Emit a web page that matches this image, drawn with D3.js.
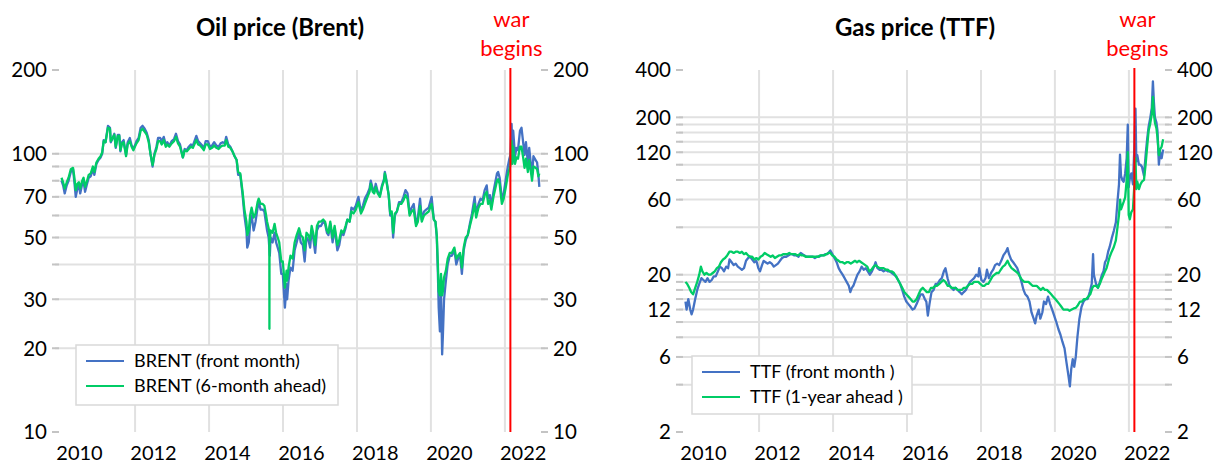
<!DOCTYPE html>
<html>
<head>
<meta charset="utf-8">
<script src="https://cdn.jsdelivr.net/npm/d3@7"></script>
<style>
  body { margin: 0; background: #fff; }
  svg { display: block; font-family: Lato, "Open Sans", sans-serif; }
</style>
</head>
<body>
<script>
// x axis
var yearLabels = [2010, 2012, 2014, 2016, 2018, 2020, 2022];
var gridYears = [2012, 2014, 2016, 2018, 2020, 2022];
var warDate = "2022-02-24";

// y axes
var brentTicks = [10, 20, 30, 50, 70, 100, 200];
var brentGrid = [20, 30, 40, 50, 60, 70, 80, 90, 100];
var ttfTicks = [2, 6, 12, 20, 60, 120, 200, 400];
var ttfGrid = [4, 6, 8, 10, 12, 14, 16, 18, 20, 40, 60, 80, 100, 120, 140, 160, 180, 200];

// BRENT front month
var brentFront = [
  ["2010-01-04",80],["2010-01-20",77],["2010-02-05",72],["2010-02-25",77],["2010-03-15",80],["2010-04-06",86],
  ["2010-04-28",88],["2010-05-10",80],["2010-05-25",70],["2010-06-10",75],["2010-06-25",77],["2010-07-08",72],
  ["2010-07-28",78],["2010-08-10",80],["2010-08-25",73],["2010-09-10",77],["2010-09-30",82],["2010-10-20",83],
  ["2010-11-10",88],["2010-11-25",84],["2010-12-15",92],["2011-01-05",95],["2011-01-25",97],["2011-02-10",100],
  ["2011-02-25",112],["2011-03-15",110],["2011-04-08",126],["2011-04-28",124],["2011-05-06",110],["2011-05-25",114],
  ["2011-06-10",118],["2011-06-24",105],["2011-07-15",117],["2011-07-29",117],["2011-08-09",102],["2011-08-25",110],
  ["2011-09-10",112],["2011-09-26",103],["2011-10-04",99],["2011-10-20",110],["2011-11-10",114],["2011-11-28",107],
  ["2011-12-15",104],["2011-12-30",107],["2012-01-15",111],["2012-02-05",114],["2012-02-25",124],["2012-03-15",126],
  ["2012-04-05",123],["2012-04-25",119],["2012-05-15",112],["2012-06-01",100],["2012-06-22",90],["2012-07-10",100],
  ["2012-07-30",106],["2012-08-15",114],["2012-09-05",114],["2012-09-20",111],["2012-10-10",115],["2012-10-30",108],
  ["2012-11-15",110],["2012-12-05",107],["2012-12-28",111],["2013-01-20",113],["2013-02-08",118],["2013-02-28",111],
  ["2013-03-20",108],["2013-04-17",97],["2013-05-05",104],["2013-05-25",103],["2013-06-15",106],["2013-07-05",108],
  ["2013-07-25",107],["2013-08-28",116],["2013-09-15",111],["2013-10-05",109],["2013-10-25",107],["2013-11-10",104],
  ["2013-11-28",111],["2013-12-20",111],["2014-01-10",106],["2014-01-30",107],["2014-02-20",110],["2014-03-15",107],
  ["2014-04-05",106],["2014-04-25",109],["2014-05-15",110],["2014-06-05",109],["2014-06-19",115],["2014-07-10",108],
  ["2014-07-30",106],["2014-08-20",102],["2014-09-10",98],["2014-09-30",95],["2014-10-15",84],["2014-11-05",84],
  ["2014-11-28",71],["2014-12-16",60],["2015-01-05",53],["2015-01-13",46],["2015-01-28",48],["2015-02-10",56],
  ["2015-02-25",60],["2015-03-17",53],["2015-04-05",57],["2015-04-25",64],["2015-05-06",67],["2015-05-25",63],
  ["2015-06-15",63],["2015-07-01",62],["2015-07-15",57],["2015-07-28",53],["2015-08-12",50],["2015-08-24",43],
  ["2015-09-01",50],["2015-09-20",48],["2015-10-10",52],["2015-10-25",48],["2015-11-10",46],["2015-11-25",44],
  ["2015-12-15",37],["2015-12-30",37],["2016-01-12",31],["2016-01-20",28],["2016-02-05",34],["2016-02-11",30],
  ["2016-02-25",35],["2016-03-15",39],["2016-04-05",38],["2016-04-25",45],["2016-05-15",48],["2016-06-08",52],
  ["2016-06-25",48],["2016-07-15",47],["2016-08-02",41],["2016-08-20",50],["2016-09-08",49],["2016-09-25",46],
  ["2016-10-10",53],["2016-10-25",50],["2016-11-14",44],["2016-12-01",53],["2016-12-20",55],["2017-01-10",55],
  ["2017-02-01",57],["2017-02-20",56],["2017-03-10",52],["2017-03-25",51],["2017-04-12",56],["2017-05-05",48],
  ["2017-05-25",54],["2017-06-21",45],["2017-07-10",47],["2017-07-30",52],["2017-08-20",51],["2017-09-10",54],
  ["2017-09-28",58],["2017-10-20",57],["2017-11-07",64],["2017-11-28",63],["2017-12-20",65],["2018-01-15",70],
  ["2018-02-09",62],["2018-02-28",65],["2018-03-20",69],["2018-04-15",72],["2018-05-05",75],["2018-05-17",80],
  ["2018-06-05",75],["2018-06-20",73],["2018-07-05",78],["2018-07-25",73],["2018-08-15",71],["2018-09-05",77],
  ["2018-09-25",81],["2018-10-03",86],["2018-10-20",80],["2018-11-10",71],["2018-11-25",60],["2018-12-10",61],
  ["2018-12-24",50],["2019-01-10",60],["2019-01-30",62],["2019-02-20",67],["2019-03-15",67],["2019-04-05",70],
  ["2019-04-25",74],["2019-05-15",72],["2019-06-05",61],["2019-06-25",64],["2019-07-15",66],["2019-08-07",56],
  ["2019-08-25",59],["2019-09-16",69],["2019-10-03",58],["2019-10-25",62],["2019-11-15",63],["2019-12-10",64],
  ["2019-12-30",68],["2020-01-08",70],["2020-01-30",58],["2020-02-15",57],["2020-02-28",50],["2020-03-10",37],
  ["2020-03-18",28],["2020-03-30",23],["2020-04-10",32],["2020-04-21",19],["2020-04-28",22],["2020-05-10",30],
  ["2020-05-28",35],["2020-06-15",40],["2020-07-05",43],["2020-07-25",43],["2020-08-20",45],["2020-09-08",40],
  ["2020-09-25",42],["2020-10-15",43],["2020-11-02",37],["2020-11-20",45],["2020-12-10",49],["2020-12-30",51],
  ["2021-01-20",56],["2021-02-10",61],["2021-02-25",66],["2021-03-08",70],["2021-03-23",61],["2021-04-15",66],
  ["2021-05-05",69],["2021-05-25",68],["2021-06-15",74],["2021-07-05",77],["2021-07-19",69],["2021-08-05",71],
  ["2021-08-20",65],["2021-09-10",73],["2021-09-28",79],["2021-10-15",85],["2021-10-26",86],["2021-11-10",82],
  ["2021-11-26",72],["2021-12-02",69],["2021-12-20",72],["2022-01-10",81],["2022-01-30",90],["2022-02-14",96],
  ["2022-02-24",99],["2022-03-08",128],["2022-03-16",98],["2022-03-24",121],["2022-04-11",98],["2022-04-25",105],
  ["2022-05-10",103],["2022-05-30",121],["2022-06-14",124],["2022-06-30",110],["2022-07-14",99],["2022-07-28",110],
  ["2022-08-16",92],["2022-08-29",105],["2022-09-15",91],["2022-09-26",84],["2022-10-10",98],["2022-10-31",95],
  ["2022-11-15",93],["2022-11-28",84],["2022-12-07",76]
];

// BRENT 6-month ahead
var brentAhead = [
  ["2010-01-04",82],["2010-01-20",79],["2010-02-05",75],["2010-02-25",79],["2010-03-15",82],["2010-04-06",88],
  ["2010-04-28",89],["2010-05-10",83],["2010-05-25",74],["2010-06-10",78],["2010-06-25",79],["2010-07-08",75],
  ["2010-07-28",80],["2010-08-10",82],["2010-08-25",76],["2010-09-10",79],["2010-09-30",84],["2010-10-20",85],
  ["2010-11-10",90],["2010-11-25",86],["2010-12-15",93],["2011-01-05",96],["2011-01-25",98],["2011-02-10",101],
  ["2011-02-25",111],["2011-03-15",110],["2011-04-08",124],["2011-04-28",123],["2011-05-06",111],["2011-05-25",114],
  ["2011-06-10",117],["2011-06-24",106],["2011-07-15",116],["2011-07-29",116],["2011-08-09",103],["2011-08-25",109],
  ["2011-09-10",110],["2011-09-26",102],["2011-10-04",98],["2011-10-20",108],["2011-11-10",111],["2011-11-28",106],
  ["2011-12-15",103],["2011-12-30",106],["2012-01-15",109],["2012-02-05",112],["2012-02-25",121],["2012-03-15",123],
  ["2012-04-05",120],["2012-04-25",117],["2012-05-15",110],["2012-06-01",100],["2012-06-22",91],["2012-07-10",99],
  ["2012-07-30",104],["2012-08-15",111],["2012-09-05",111],["2012-09-20",108],["2012-10-10",112],["2012-10-30",106],
  ["2012-11-15",108],["2012-12-05",106],["2012-12-28",109],["2013-01-20",111],["2013-02-08",115],["2013-02-28",109],
  ["2013-03-20",106],["2013-04-17",97],["2013-05-05",103],["2013-05-25",102],["2013-06-15",104],["2013-07-05",106],
  ["2013-07-25",105],["2013-08-28",112],["2013-09-15",108],["2013-10-05",107],["2013-10-25",105],["2013-11-10",103],
  ["2013-11-28",108],["2013-12-20",108],["2014-01-10",104],["2014-01-30",105],["2014-02-20",107],["2014-03-15",105],
  ["2014-04-05",104],["2014-04-25",106],["2014-05-15",107],["2014-06-05",107],["2014-06-19",112],["2014-07-10",106],
  ["2014-07-30",105],["2014-08-20",102],["2014-09-10",98],["2014-09-30",95],["2014-10-15",86],["2014-11-05",85],
  ["2014-11-28",73],["2014-12-16",63],["2015-01-05",57],["2015-01-13",51],["2015-01-28",53],["2015-02-10",60],
  ["2015-02-25",64],["2015-03-17",59],["2015-04-05",61],["2015-04-25",67],["2015-05-06",69],["2015-05-25",66],
  ["2015-06-15",66],["2015-07-01",65],["2015-07-15",61],["2015-07-28",57],["2015-08-12",54],["2015-08-19",52],
  ["2015-08-20",23.5],["2015-08-21",51],["2015-08-24",48],["2015-09-01",53],["2015-09-20",52],["2015-10-10",56],
  ["2015-10-25",52],["2015-11-10",50],["2015-11-25",48],["2015-12-15",41],["2015-12-30",41],["2016-01-12",36],
  ["2016-01-20",33],["2016-02-05",38],["2016-02-11",35],["2016-02-25",39],["2016-03-15",43],["2016-04-05",42],
  ["2016-04-25",48],["2016-05-15",51],["2016-06-08",54],["2016-06-25",51],["2016-07-15",50],["2016-08-02",45],
  ["2016-08-20",52],["2016-09-08",51],["2016-09-25",49],["2016-10-10",55],["2016-10-25",52],["2016-11-14",47],
  ["2016-12-01",55],["2016-12-20",57],["2017-01-10",57],["2017-02-01",58],["2017-02-20",57],["2017-03-10",53],
  ["2017-03-25",52],["2017-04-12",57],["2017-05-05",50],["2017-05-25",55],["2017-06-21",47],["2017-07-10",49],
  ["2017-07-30",53],["2017-08-20",52],["2017-09-10",55],["2017-09-28",58],["2017-10-20",57],["2017-11-07",62],
  ["2017-11-28",61],["2017-12-20",63],["2018-01-15",67],["2018-02-09",61],["2018-02-28",63],["2018-03-20",66],
  ["2018-04-15",70],["2018-05-05",73],["2018-05-17",78],["2018-06-05",73],["2018-06-20",72],["2018-07-05",76],
  ["2018-07-25",72],["2018-08-15",70],["2018-09-05",76],["2018-09-25",80],["2018-10-03",85],["2018-10-20",79],
  ["2018-11-10",71],["2018-11-25",61],["2018-12-10",62],["2018-12-24",52],["2019-01-10",61],["2019-01-30",62],
  ["2019-02-20",66],["2019-03-15",66],["2019-04-05",68],["2019-04-25",71],["2019-05-15",69],["2019-06-05",60],
  ["2019-06-25",62],["2019-07-15",63],["2019-08-07",55],["2019-08-25",57],["2019-09-16",65],["2019-10-03",57],
  ["2019-10-25",60],["2019-11-15",61],["2019-12-10",62],["2019-12-30",65],["2020-01-08",66],["2020-01-30",58],
  ["2020-02-15",57],["2020-02-28",51],["2020-03-10",40],["2020-03-18",32],["2020-03-30",31],["2020-04-10",37],
  ["2020-04-21",31],["2020-04-28",32],["2020-05-10",36],["2020-05-28",38],["2020-06-15",42],["2020-07-05",44],
  ["2020-07-25",44],["2020-08-20",46],["2020-09-08",42],["2020-09-25",43],["2020-10-15",44],["2020-11-02",39],
  ["2020-11-20",46],["2020-12-10",50],["2020-12-30",51],["2021-01-20",55],["2021-02-10",59],["2021-02-25",63],
  ["2021-03-08",66],["2021-03-23",59],["2021-04-15",64],["2021-05-05",66],["2021-05-25",66],["2021-06-15",71],
  ["2021-07-05",73],["2021-07-19",66],["2021-08-05",68],["2021-08-20",63],["2021-09-10",70],["2021-09-28",75],
  ["2021-10-15",80],["2021-10-26",81],["2021-11-10",78],["2021-11-26",69],["2021-12-02",66],["2021-12-20",69],
  ["2022-01-10",76],["2022-01-30",84],["2022-02-14",88],["2022-02-24",91],["2022-03-08",111],["2022-03-16",92],
  ["2022-03-24",106],["2022-04-11",92],["2022-04-25",97],["2022-05-10",96],["2022-05-30",106],["2022-06-14",106],
  ["2022-06-30",97],["2022-07-14",89],["2022-07-28",96],["2022-08-16",86],["2022-08-29",95],["2022-09-15",86],
  ["2022-09-26",80],["2022-10-10",90],["2022-10-31",89],["2022-11-15",88],["2022-11-28",83],["2022-12-07",85]
];

// TTF front month
var ttfFront = [
  ["2010-01-04",13.5],["2010-01-15",12],["2010-02-01",14],["2010-02-20",12],["2010-03-05",11.2],["2010-03-20",12],
  ["2010-04-10",14],["2010-04-30",16],["2010-05-20",17.5],["2010-06-10",19],["2010-06-30",18.5],["2010-07-20",18],
  ["2010-08-10",19],["2010-08-30",18],["2010-09-20",18.5],["2010-10-10",19.5],["2010-10-30",19.5],["2010-11-20",21],
  ["2010-12-10",22.5],["2010-12-30",22],["2011-01-20",21],["2011-02-10",22.5],["2011-03-01",22],["2011-03-15",25],
  ["2011-04-05",24],["2011-04-25",23],["2011-05-15",23.5],["2011-06-05",22.5],["2011-06-25",22],["2011-07-15",21.5],
  ["2011-08-05",22],["2011-08-25",24.5],["2011-09-15",25.5],["2011-10-05",26],["2011-10-25",25],["2011-11-15",24],
  ["2011-12-05",24.5],["2011-12-25",22],["2012-01-10",21],["2012-01-30",23],["2012-02-15",24.5],["2012-03-05",24],
  ["2012-03-25",23.5],["2012-04-15",24],["2012-05-05",23.5],["2012-05-25",22.5],["2012-06-15",23],["2012-07-05",23.5],
  ["2012-07-25",24.5],["2012-08-15",25.5],["2012-09-05",26],["2012-09-25",26],["2012-10-15",26.5],["2012-11-05",27],
  ["2012-11-25",27],["2012-12-15",26.5],["2013-01-05",26.5],["2013-01-25",26],["2013-02-15",27.5],["2013-03-05",27],
  ["2013-03-25",26.5],["2013-04-15",26],["2013-05-05",26],["2013-05-25",26],["2013-06-15",26],["2013-07-05",25.5],
  ["2013-07-25",26],["2013-08-15",26],["2013-09-05",26.5],["2013-09-25",26.5],["2013-10-15",27],["2013-11-05",27],
  ["2013-11-25",28],["2013-12-05",28.5],["2013-12-25",27],["2014-01-15",25.5],["2014-02-05",24],["2014-02-25",22],
  ["2014-03-15",21],["2014-04-05",20],["2014-04-25",19],["2014-05-15",18],["2014-06-05",17],["2014-06-20",15.5],
  ["2014-07-05",16.5],["2014-07-20",17],["2014-08-10",18.5],["2014-08-30",20],["2014-09-20",21],["2014-10-10",22.5],
  ["2014-10-30",21.5],["2014-11-20",22],["2014-12-10",21],["2014-12-30",20],["2015-01-20",21],["2015-02-10",22.5],
  ["2015-02-25",24],["2015-03-15",22],["2015-04-05",21.5],["2015-04-25",21.5],["2015-05-15",21],["2015-06-05",21.5],
  ["2015-06-25",21],["2015-07-15",21],["2015-08-05",20.5],["2015-08-25",20],["2015-09-15",19.5],["2015-10-05",18.5],
  ["2015-10-25",17.5],["2015-11-15",16],["2015-12-05",14.5],["2015-12-25",13.5],["2016-01-15",13],["2016-02-05",12.5],
  ["2016-02-25",12],["2016-03-15",12.2],["2016-04-05",13],["2016-04-25",14],["2016-05-15",15],["2016-06-05",15],
  ["2016-06-25",14],["2016-07-10",13.5],["2016-07-25",11],["2016-08-10",13],["2016-08-30",15.5],["2016-09-20",16],
  ["2016-10-10",17.5],["2016-10-30",17.5],["2016-11-20",18.5],["2016-12-10",19],["2016-12-30",21],["2017-01-15",22],
  ["2017-02-05",19],["2017-02-25",17],["2017-03-15",16.5],["2017-04-05",16],["2017-04-25",16.5],["2017-05-15",16],
  ["2017-06-05",15.5],["2017-06-25",15],["2017-07-15",15.5],["2017-08-05",16],["2017-08-25",17],["2017-09-15",18],
  ["2017-10-05",18.5],["2017-10-25",19],["2017-11-15",20],["2017-12-05",19.5],["2017-12-15",22],["2018-01-05",18.5],
  ["2018-01-25",18],["2018-02-15",19],["2018-03-01",21.5],["2018-03-20",19],["2018-04-10",20.5],["2018-05-01",21.5],
  ["2018-05-20",23],["2018-06-10",23.5],["2018-06-30",23],["2018-07-20",24.5],["2018-08-10",26.5],["2018-09-05",28],
  ["2018-09-20",29.5],["2018-10-05",27],["2018-10-25",25],["2018-11-15",24],["2018-12-05",23],["2018-12-25",22],
  ["2019-01-15",20],["2019-02-05",18],["2019-02-25",16],["2019-03-15",15],["2019-04-05",14.5],["2019-04-25",13.5],
  ["2019-05-15",11.5],["2019-06-05",10.5],["2019-06-20",9.8],["2019-07-05",11],["2019-07-25",12],["2019-08-10",10.5],
  ["2019-08-30",11.5],["2019-09-15",13.5],["2019-10-05",13],["2019-10-25",14.5],["2019-11-15",13],["2019-12-05",12],
  ["2019-12-25",11],["2020-01-15",10],["2020-02-05",9],["2020-02-25",8.3],["2020-03-15",7.5],["2020-04-05",6.8],
  ["2020-04-25",5.5],["2020-05-15",4.5],["2020-05-28",3.9],["2020-06-10",5],["2020-06-25",5.8],["2020-07-10",5.2],
  ["2020-07-25",6],["2020-08-10",8],["2020-08-30",10.5],["2020-09-20",12.5],["2020-10-10",13.5],["2020-10-30",14],
  ["2020-11-20",14],["2020-12-10",15.5],["2020-12-30",17.5],["2021-01-12",27],["2021-01-20",20],["2021-02-10",17.5],
  ["2021-03-01",16.5],["2021-03-20",18],["2021-04-10",20],["2021-04-25",21],["2021-05-10",24],["2021-05-25",25],
  ["2021-06-10",28],["2021-06-25",30],["2021-07-15",34],["2021-08-05",38],["2021-08-25",43],["2021-09-10",58],
  ["2021-09-25",75],["2021-10-05",116],["2021-10-15",85],["2021-10-28",80],["2021-11-10",78],["2021-11-25",88],
  ["2021-12-10",110],["2021-12-21",180],["2021-12-30",72],["2022-01-10",82],["2022-01-25",88],["2022-02-10",75],
  ["2022-02-24",130],["2022-03-07",227],["2022-03-15",105],["2022-03-25",115],["2022-04-10",100],["2022-04-25",100],
  ["2022-05-10",97],["2022-05-30",85],["2022-06-15",115],["2022-06-30",145],["2022-07-15",175],["2022-07-29",195],
  ["2022-08-15",230],["2022-08-26",339],["2022-09-05",250],["2022-09-15",200],["2022-09-30",185],["2022-10-10",165],
  ["2022-10-24",100],["2022-11-05",120],["2022-11-20",110],["2022-12-05",125]
];

// TTF 1-year ahead
var ttfAhead = [
  ["2010-01-04",18],["2010-01-20",17.5],["2010-02-10",16.5],["2010-03-01",15.5],["2010-03-20",15],["2010-04-10",16.5],
  ["2010-04-30",18],["2010-05-20",20],["2010-06-05",22.5],["2010-06-20",21],["2010-07-10",20],["2010-07-30",20.5],
  ["2010-08-20",20],["2010-09-10",20],["2010-09-30",20.5],["2010-10-20",21],["2010-11-10",22],["2010-11-30",22.5],
  ["2010-12-20",24],["2011-01-10",25],["2011-01-30",25.5],["2011-02-20",26.5],["2011-03-15",28],["2011-04-05",28],
  ["2011-04-25",27.5],["2011-05-15",28],["2011-06-05",28],["2011-06-25",27.5],["2011-07-15",28],["2011-08-05",27],
  ["2011-08-25",27.5],["2011-09-15",26.5],["2011-10-05",26],["2011-10-25",26],["2011-11-15",25],["2011-12-05",25.5],
  ["2011-12-25",25],["2012-01-15",26],["2012-02-05",26.5],["2012-02-25",27.5],["2012-03-15",27],["2012-04-05",26.5],
  ["2012-04-25",26],["2012-05-15",26.5],["2012-06-05",25.5],["2012-06-25",26],["2012-07-15",26.5],["2012-08-05",26.5],
  ["2012-08-25",27],["2012-09-15",27],["2012-10-05",27],["2012-10-25",27.5],["2012-11-15",27],["2012-12-05",27],
  ["2012-12-25",27],["2013-01-15",26.5],["2013-02-05",27],["2013-02-25",26.5],["2013-03-15",26.5],["2013-04-05",26],
  ["2013-04-25",26],["2013-05-15",26],["2013-06-05",26],["2013-06-25",26],["2013-07-15",26],["2013-08-05",26],
  ["2013-08-25",26.5],["2013-09-15",26.5],["2013-10-05",26.5],["2013-10-25",27],["2013-11-15",27.5],["2013-12-05",27.5],
  ["2013-12-25",26.5],["2014-01-15",26],["2014-02-05",25],["2014-02-25",24.5],["2014-03-15",24],["2014-04-05",24],
  ["2014-04-25",23.5],["2014-05-15",24],["2014-06-05",24],["2014-06-25",23.5],["2014-07-15",24],["2014-08-05",24.5],
  ["2014-08-25",24],["2014-09-15",24.5],["2014-10-05",24],["2014-10-25",23.5],["2014-11-15",23],["2014-12-05",22.5],
  ["2014-12-25",21],["2015-01-15",21.5],["2015-02-05",22.5],["2015-02-25",23],["2015-03-15",22.5],["2015-04-05",22],
  ["2015-04-25",22],["2015-05-15",22],["2015-06-05",21.5],["2015-06-25",21.5],["2015-07-15",21],["2015-08-05",21],
  ["2015-08-25",20.5],["2015-09-15",19.5],["2015-10-05",18.5],["2015-10-25",17.5],["2015-11-15",16.5],["2015-12-05",15.5],
  ["2015-12-25",15],["2016-01-15",14.5],["2016-02-05",14],["2016-02-25",13.5],["2016-03-15",13.5],["2016-04-05",14],
  ["2016-04-25",15],["2016-05-15",16],["2016-06-05",16.5],["2016-06-25",16],["2016-07-15",15.5],["2016-08-05",15.5],
  ["2016-08-25",16.5],["2016-09-15",16.5],["2016-10-05",17],["2016-10-25",17],["2016-11-15",17.5],["2016-12-05",18],
  ["2016-12-25",18.5],["2017-01-15",18],["2017-02-05",17],["2017-02-25",17],["2017-03-15",16.5],["2017-04-05",16.5],
  ["2017-04-25",16.5],["2017-05-15",16],["2017-06-05",16],["2017-06-25",16],["2017-07-15",16.5],["2017-08-05",16.5],
  ["2017-08-25",17],["2017-09-15",17.5],["2017-10-05",17.5],["2017-10-25",18],["2017-11-15",18],["2017-12-05",18],
  ["2017-12-25",17.5],["2018-01-15",17],["2018-02-05",17],["2018-02-25",17.5],["2018-03-15",17.5],["2018-04-05",18.5],
  ["2018-04-25",19.5],["2018-05-15",20],["2018-06-05",20.5],["2018-06-25",20.5],["2018-07-15",21.5],["2018-08-05",22.5],
  ["2018-08-25",23],["2018-09-20",24.5],["2018-10-10",23],["2018-10-30",22],["2018-11-20",21.5],["2018-12-10",21],
  ["2018-12-30",20.5],["2019-01-20",19.5],["2019-02-10",18.5],["2019-03-05",18],["2019-03-25",18],["2019-04-15",18],
  ["2019-05-05",17.5],["2019-05-25",17],["2019-06-15",17],["2019-07-05",17],["2019-07-25",16.5],["2019-08-15",16],
  ["2019-09-05",16.5],["2019-09-25",16],["2019-10-15",16],["2019-11-05",15.5],["2019-11-25",15],["2019-12-15",14.5],
  ["2020-01-05",14],["2020-01-25",13.5],["2020-02-15",13],["2020-03-05",12.5],["2020-03-25",12],["2020-04-15",12],
  ["2020-05-05",12],["2020-05-25",11.8],["2020-06-15",12],["2020-07-05",12.2],["2020-07-25",12.3],["2020-08-15",12.8],
  ["2020-09-05",13.5],["2020-09-25",13.5],["2020-10-15",14],["2020-11-05",14],["2020-11-25",14.5],["2020-12-15",15],
  ["2021-01-05",16.5],["2021-01-20",17],["2021-02-10",17],["2021-03-01",16.5],["2021-03-20",17.5],["2021-04-10",19],
  ["2021-04-25",20],["2021-05-10",21],["2021-05-25",22],["2021-06-10",24],["2021-06-25",26],["2021-07-15",28],
  ["2021-08-05",30],["2021-08-25",33],["2021-09-10",40],["2021-09-25",48],["2021-10-06",60],["2021-10-15",52],
  ["2021-10-28",55],["2021-11-10",58],["2021-11-25",62],["2021-12-10",80],["2021-12-21",120],["2021-12-30",48],
  ["2022-01-10",45],["2022-01-25",50],["2022-02-10",52],["2022-02-24",75],["2022-03-07",110],["2022-03-15",70],
  ["2022-03-25",78],["2022-04-10",70],["2022-04-25",75],["2022-05-10",78],["2022-05-30",80],["2022-06-15",100],
  ["2022-06-30",130],["2022-07-15",165],["2022-07-29",180],["2022-08-15",210],["2022-08-26",270],["2022-09-05",210],
  ["2022-09-15",185],["2022-09-30",170],["2022-10-10",150],["2022-10-24",115],["2022-11-05",125],["2022-11-20",130],
  ["2022-12-05",145]
];

var BLUE = "#4472C4", GREEN = "#00CC66", RED = "#FF0000";
var parse = d3.timeParse("%Y-%m-%d");

var svg = d3.select("body").append("svg")
    .attr("width", 1220)
    .attr("height", 465);

function panel(cfg) {
    var x0 = cfg.left, x1 = cfg.left + 490;
    var x = d3.scaleTime()
        .domain([parse("2009-11-01"), parse("2023-02-01")])
        .range([x0, x1]);
    var y = d3.scaleLog()
        .domain(cfg.yDomain)
        .range([432, 70]);

    var g = svg.append("g");

    // horizontal grid
    g.selectAll("line.hgrid").data(cfg.grid).enter().append("line")
        .attr("class", "hgrid")
        .attr("x1", x0).attr("x2", x1)
        .attr("y1", function (d) { return y(d); })
        .attr("y2", function (d) { return y(d); })
        .attr("stroke", "#e1e1e1").attr("stroke-width", 2);

    // vertical grid
    g.selectAll("line.vgrid").data(gridYears).enter().append("line")
        .attr("class", "vgrid")
        .attr("x1", function (d) { return x(new Date(d, 0, 1)); })
        .attr("x2", function (d) { return x(new Date(d, 0, 1)); })
        .attr("y1", 70).attr("y2", 432)
        .attr("stroke", "#e1e1e1").attr("stroke-width", 2);

    // tick marks on both sides
    var tickVals = Array.from(d3.union(cfg.ticks, cfg.grid));
    [[x0 - 3, x0 + 4], [x1 - 4, x1 + 3]].forEach(function (p) {
        g.selectAll(null).data(tickVals).enter().append("line")
            .attr("x1", p[0]).attr("x2", p[1])
            .attr("y1", function (d) { return y(d); })
            .attr("y2", function (d) { return y(d); })
            .attr("stroke", "#c4c4c4").attr("stroke-width", 2);
    });

    // tick labels
    g.selectAll("text.yl").data(cfg.ticks).enter().append("text")
        .attr("class", "yl")
        .attr("x", x0 - cfg.labelGap)
        .attr("y", function (d) { return y(d); })
        .attr("dy", "0.36em")
        .attr("text-anchor", "end")
        .style("font-size", "20.5px")
        .text(function (d) { return d; });
    g.selectAll("text.yr").data(cfg.ticks).enter().append("text")
        .attr("class", "yr")
        .attr("x", x1 + 8)
        .attr("y", function (d) { return y(d); })
        .attr("dy", "0.36em")
        .style("font-size", "20.5px")
        .text(function (d) { return d; });

    g.selectAll("text.xl").data(yearLabels).enter().append("text")
        .attr("class", "xl")
        .attr("x", function (d) { return x(new Date(d, 6, 1)); })
        .attr("y", 460)
        .attr("text-anchor", "middle")
        .style("font-size", "20px")
        .text(function (d) { return d; });

    // series
    var line = d3.line()
        .x(function (d) { return x(parse(d[0])); })
        .y(function (d) { return y(d[1]); });

    cfg.series.forEach(function (s) {
        g.append("path")
            .datum(s.data)
            .attr("d", line)
            .attr("fill", "none")
            .attr("stroke", s.color)
            .attr("stroke-width", 2.3)
            .attr("stroke-linejoin", "round");
    });

    // war line
    var wx = x(parse(warDate));
    g.append("line")
        .attr("x1", wx).attr("x2", wx)
        .attr("y1", 68).attr("y2", 432)
        .attr("stroke", RED).attr("stroke-width", 2);
    g.append("text")
        .attr("x", wx + cfg.warShift).attr("y", 27)
        .attr("text-anchor", "middle")
        .attr("fill", RED).style("font-size", "22px")
        .text("war");
    g.append("text")
        .attr("x", wx + cfg.warShift).attr("y", 56)
        .attr("text-anchor", "middle")
        .attr("fill", RED).style("font-size", "22px")
        .text("begins");

    // title
    g.append("text")
        .attr("x", cfg.titleX).attr("y", 36)
        .attr("text-anchor", "middle")
        .style("font-size", "24px")
        .style("font-weight", "bold")
        .text(cfg.title);

    // legend
    var L = cfg.legend;
    g.append("rect")
        .attr("x", L.x).attr("y", L.y)
        .attr("width", L.w).attr("height", L.h)
        .attr("fill", "#fff")
        .attr("stroke", "#d9d9d9").attr("stroke-width", 1.5);
    cfg.series.forEach(function (s, i) {
        var ly = L.y + 16 + i * 25;
        g.append("line")
            .attr("x1", L.x + 10).attr("x2", L.x + 48)
            .attr("y1", ly).attr("y2", ly)
            .attr("stroke", s.color).attr("stroke-width", 2);
        g.append("text")
            .attr("x", L.x + 58).attr("y", ly)
            .attr("dy", "0.36em")
            .style("font-size", "18px")
            .text(s.name);
    });
}

panel({
    left: 55,
    yDomain: [10, 200],
    ticks: brentTicks,
    grid: brentGrid,
    labelGap: 8,
    title: "Oil price (Brent)",
    titleX: 280,
    warShift: 1,
    legend: {x: 76, y: 345, w: 262, h: 60},
    series: [
        {name: "BRENT (front month)", color: BLUE, data: brentFront},
        {name: "BRENT (6-month ahead)", color: GREEN, data: brentAhead}
    ]
});

panel({
    left: 679,
    yDomain: [2, 400],
    ticks: ttfTicks,
    grid: ttfGrid,
    labelGap: 8,
    title: "Gas price (TTF)",
    titleX: 915,
    warShift: 3,
    legend: {x: 692, y: 356, w: 220, h: 58},
    series: [
        {name: "TTF (front month )", color: BLUE, data: ttfFront},
        {name: "TTF (1-year ahead )", color: GREEN, data: ttfAhead}
    ]
});
</script>
</body>
</html>
